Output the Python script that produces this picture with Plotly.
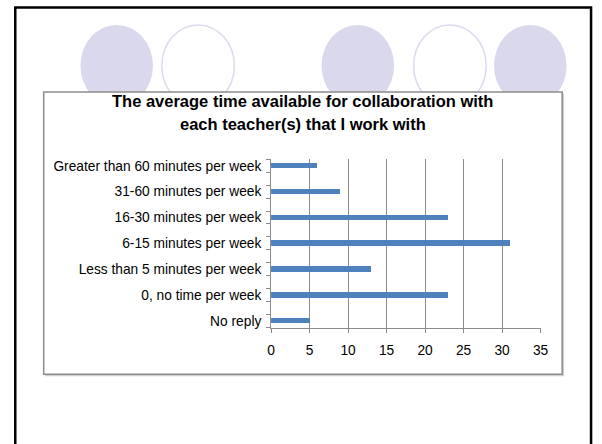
import plotly.graph_objects as go

W, H = 602, 444

categories = [
    "No reply",
    "0, no time per week",
    "Less than 5 minutes per week",
    "6-15 minutes per week",
    "16-30 minutes per week",
    "31-60 minutes per week",
    "Greater than 60 minutes per week",
]
responses = [5, 23, 13, 31, 23, 9, 6]
x_ticks = [0, 5, 10, 15, 20, 25, 30, 35]

title_lines = [
    "The average time available for collaboration with",
    "each teacher(s) that I work with",
]

# decorative circles on the slide: (centre x, filled?)
circles = [(115, True), (198, False), (361, True), (455, False), (537, True)]


def px(x):
    return x / W


def py(y):
    return 1 - y / H


positions = list(range(len(categories)))

fig = go.Figure()
fig.add_trace(go.Bar(
    x=responses,
    y=positions,
    orientation="h",
    width=0.21,
    marker=dict(color="#4F81BD", line=dict(width=0)),
    hoverinfo="x",
))

shapes = []
for cx, filled in circles:
    shapes.append(dict(
        type="circle", xref="paper", yref="paper", layer="below",
        x0=px(cx - 37), x1=px(cx + 37), y0=py(24), y1=py(106),
        fillcolor="#DAD8EC" if filled else "rgba(0,0,0,0)",
        line=dict(color="#DAD8EC" if filled else "#DCDAEE", width=0 if filled else 1.5),
    ))

# chart box (soft shadow, then white box)
shapes.append(dict(type="rect", xref="paper", yref="paper", layer="below",
                   x0=px(42), x1=px(571.5), y0=py(93), y1=py(377),
                   fillcolor="#D0D0D0", line=dict(width=0)))
shapes.append(dict(type="rect", xref="paper", yref="paper", layer="below",
                   x0=px(40.5), x1=px(569.5), y0=py(91.5), y1=py(375),
                   fillcolor="white", line=dict(color="#8C8C8C", width=1.5)))
# slide frame
shapes.append(dict(type="rect", xref="paper", yref="paper", layer="above",
                   x0=px(11.5), x1=px(599), y0=py(6.5), y1=py(470),
                   fillcolor="rgba(0,0,0,0)", line=dict(color="black", width=2.5)))

annotations = []
for i, line in enumerate(title_lines):
    annotations.append(dict(
        text="<b>%s</b>" % line, xref="paper", yref="paper",
        x=px(305), y=py(100 + 24 * i), xanchor="center", yanchor="middle",
        showarrow=False, font=dict(size=16.5, color="black"),
    ))

fig.update_layout(
    width=W, height=H,
    margin=dict(l=0, r=0, t=0, b=0),
    paper_bgcolor="white",
    plot_bgcolor="rgba(0,0,0,0)",
    font=dict(family="Liberation Sans, Arial, sans-serif", size=13.75, color="black"),
    showlegend=False,
    shapes=shapes,
    annotations=annotations,
    bargap=0,
)

fig.update_xaxes(
    domain=[px(272.5), px(547.5)],
    range=[0, 35],
    tickvals=x_ticks,
    showgrid=True, gridcolor="#8C8C8C", gridwidth=1,
    showline=True, linecolor="#8C8C8C", linewidth=1,
    ticks="outside", ticklen=4, tickcolor="#8C8C8C",
    ticklabelstandoff=6,
    zeroline=False,
    fixedrange=True,
)

fig.update_yaxes(
    domain=[py(328), py(159)],
    range=[-0.25, 6.25],
    tickvals=positions,
    ticktext=categories,
    ticks="outside", ticklen=6, tickcolor="rgba(0,0,0,0)",
    minor=dict(tick0=0.25, dtick=0.5, ticks="outside", ticklen=4, tickcolor="#8C8C8C"),
    showgrid=False,
    showline=True, linecolor="#8C8C8C", linewidth=1,
    zeroline=False,
    fixedrange=True,
)

# the page body has a default margin; drop it so the figure fills the window
fig.write_html(
    "out.html",
    config={"displayModeBar": False},
    post_script="document.body.style.margin='0';document.body.style.overflow='hidden';",
)
